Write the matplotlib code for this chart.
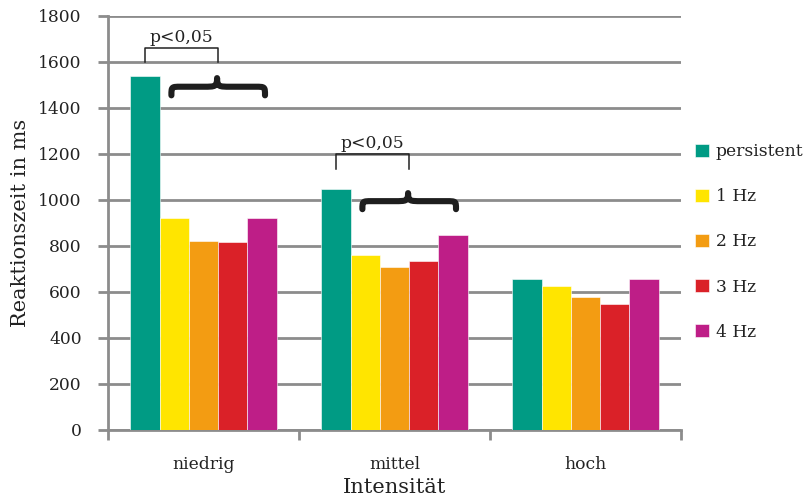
import matplotlib
matplotlib.use("Agg")
import matplotlib.pyplot as plt
import numpy as np
from matplotlib.path import Path
from matplotlib.patches import PathPatch

categories = ["niedrig", "mittel", "hoch"]
series_labels = ["persistent", "1 Hz", "2 Hz", "3 Hz", "4 Hz"]
persistent = [1540, 1048, 658]
hz1 = [920, 760, 626]
hz2 = [822, 710, 578]
hz3 = [816, 733, 546]
hz4 = [922, 849, 658]
colors = ["#009B84", "#FFE500", "#F39C12", "#DA2128", "#BE1E87"]
y_ticks = [0, 200, 400, 600, 800, 1000, 1200, 1400, 1600, 1800]
sig_label = "p<0,05"

plt.rcParams["font.family"] = ["DejaVu Serif"]
grid_col = "#8c8c8c"
txt_col = "#222222"
fs_tick = 12.3
fs_title = 15

fig = plt.figure(figsize=(8.11, 4.97), dpi=100)
ax = fig.add_axes([108 / 811, 1 - 430 / 497, 573 / 811, 414 / 497])

values = [persistent, hz1, hz2, hz3, hz4]
x = np.arange(len(categories))
w = 0.1535
handles = []
for i, (vals, col, lab) in enumerate(zip(values, colors, series_labels)):
    b = ax.bar(x + (i - 2) * w, vals, width=w, color=col, label=lab,
               edgecolor="#ffffff", linewidth=0.4, zorder=3)
    handles.append(b)

ax.set_xlim(-0.5, 2.5)
ax.set_ylim(0, 1800)
ax.set_yticks(y_ticks)
ax.set_yticklabels([str(v) for v in y_ticks], fontsize=fs_tick, color=txt_col)
ax.yaxis.grid(True, color=grid_col, linewidth=2, zorder=1)
ax.set_axisbelow(True)

# category ticks sit on the boundaries, labels in the middle
ax.set_xticks([-0.5, 0.5, 1.5, 2.5])
ax.set_xticklabels([])
ax.set_xticks(x, minor=True)
ax.set_xticklabels(categories, minor=True, fontsize=fs_tick, color=txt_col)
ax.tick_params(axis="x", which="minor", length=0, pad=19)
ax.tick_params(axis="x", which="major", direction="out", length=7, width=2,
               color=grid_col)
ax.tick_params(axis="y", direction="out", length=7, width=2, color=grid_col,
               pad=12)

for s in ["top", "right"]:
    ax.spines[s].set_visible(False)
for s in ["left", "bottom"]:
    ax.spines[s].set_color(grid_col)
    ax.spines[s].set_linewidth(2)

ax.set_ylabel("Reaktionszeit in ms", fontsize=fs_title, labelpad=6,
              color=txt_col)
ax.set_xlabel("Intensität", fontsize=fs_title, labelpad=3, color=txt_col)


def sig_bracket(cx, y_low, y_top, y_text):
    x0, x1 = cx - 0.308, cx + 0.076
    ax.plot([x0, x0, x1, x1], [y_low, y_top, y_top, y_low], color=txt_col,
            linewidth=1.1, zorder=4, clip_on=False)
    ax.text((x0 + x1) / 2, y_text, sig_label, ha="center", va="bottom",
            fontsize=fs_tick, color=txt_col)


def curly_brace(cx, y_bot, y_top):
    x0, x1 = cx - 0.168, cx + 0.322
    xt = cx + 0.071
    ym = y_bot + 0.5 * (y_top - y_bot)
    c = 0.05
    ct = 0.07
    verts = [
        (x0, y_bot),
        (x0, ym), (x0, ym), (x0 + c, ym),
        (xt - ct, ym),
        (xt - 0.01, ym), (xt, ym), (xt, y_top),
        (xt, ym), (xt + 0.01, ym), (xt + ct, ym),
        (x1 - c, ym),
        (x1, ym), (x1, ym), (x1, y_bot),
    ]
    codes = [Path.MOVETO,
             Path.CURVE4, Path.CURVE4, Path.CURVE4,
             Path.LINETO,
             Path.CURVE4, Path.CURVE4, Path.CURVE4,
             Path.CURVE4, Path.CURVE4, Path.CURVE4,
             Path.LINETO,
             Path.CURVE4, Path.CURVE4, Path.CURVE4]
    ax.add_patch(PathPatch(Path(verts, codes), facecolor="none",
                           edgecolor="#1e1e1e", linewidth=4.4,
                           capstyle="round", joinstyle="round", zorder=4))


sig_bracket(0, 1600, 1660, 1668)
sig_bracket(1, 1133, 1199, 1207)
curly_brace(0, 1455, 1530)
curly_brace(1, 960, 1030)

leg = ax.legend(handles=handles, loc="upper left",
                bbox_to_anchor=(695 / 811, 1 - 143 / 497),
                bbox_transform=fig.transFigure, frameon=False,
                fontsize=fs_tick, handlelength=0.8, handleheight=0.8,
                handletextpad=0.4, labelspacing=1.65, borderpad=0,
                borderaxespad=0)
for t in leg.get_texts():
    t.set_color(txt_col)

fig.savefig("out.png", dpi=100)
